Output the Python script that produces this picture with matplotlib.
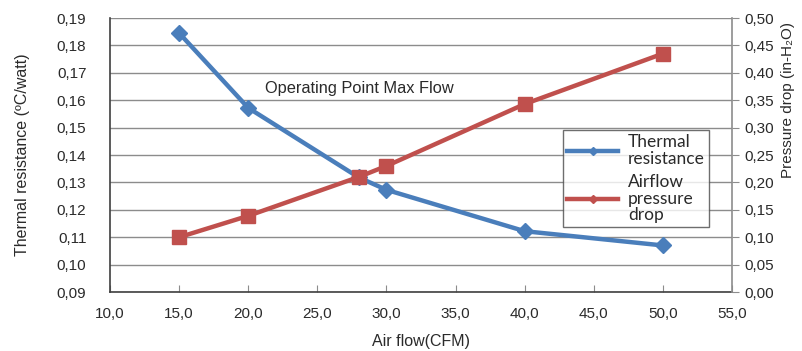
import matplotlib
matplotlib.use("Agg")
import matplotlib.pyplot as plt
from matplotlib.ticker import FuncFormatter, MultipleLocator
from matplotlib.lines import Line2D

plt.rcParams['font.family'] = ['Liberation Sans', 'DejaVu Sans']

# Thermal resistance vs airflow
flow_tr = [15, 20, 28, 30, 40, 50]
thermal_res = [0.1845, 0.1572, 0.1318, 0.1273, 0.1122, 0.1070]

# Pressure drop vs airflow
flow_dp = [15, 20, 28, 30, 40, 50]
pressure_drop = [0.100, 0.139, 0.210, 0.230, 0.343, 0.435]

blue = '#4a7ebb'
red = '#c0504d'
grid_c = '#8c8c8c'
text_c = '#2a2a2a'

fig = plt.figure(figsize=(8.03, 3.51), dpi=100)
ax = fig.add_axes([0.137, 0.168, 0.7746, 0.7807])
ax2 = ax.twinx()

comma = lambda fmt: FuncFormatter(lambda v, p: (fmt % v).replace('.', ','))

ax.set_xlim(10, 55)
ax.set_ylim(0.09, 0.19)
ax.xaxis.set_major_locator(MultipleLocator(5))
ax.yaxis.set_major_locator(MultipleLocator(0.01))
ax.xaxis.set_major_formatter(comma('%.1f'))
ax.yaxis.set_major_formatter(comma('%.2f'))
ax2.set_ylim(0, 0.5)
ax2.yaxis.set_major_locator(MultipleLocator(0.05))
ax2.yaxis.set_major_formatter(comma('%.2f'))

ax.grid(axis='y', color=grid_c, linewidth=1.0)
ax.set_axisbelow(True)

for s in ['left', 'bottom']:
    ax.spines[s].set_color('#404040')
    ax.spines[s].set_linewidth(1.2)
ax.spines['top'].set_visible(False)
ax2.spines['top'].set_visible(False)
ax.spines['right'].set_visible(False)
ax2.spines['left'].set_visible(False)
ax2.spines['bottom'].set_visible(False)
ax2.spines['right'].set_color(grid_c)
ax2.spines['right'].set_linewidth(1.2)

ax.tick_params(axis='x', direction='in', length=5, color=grid_c, labelsize=11,
               labelcolor=text_c, pad=11)
ax.tick_params(axis='y', length=0, labelsize=11, labelcolor=text_c, pad=17)
ax2.tick_params(axis='y', direction='out', length=5, color=grid_c, labelsize=11,
                labelcolor=text_c, pad=4)

# thermal resistance first, pressure drop drawn over it
ax.plot(flow_tr, thermal_res, color=blue, linewidth=3.2, marker='D',
        markersize=8, zorder=3)
ax2.plot(flow_dp, pressure_drop, color=red, linewidth=3.2, marker='s',
         markersize=10, zorder=3)

ax.set_xlabel('Air flow(CFM)', fontsize=11.5, color=text_c, labelpad=9)
ax.set_ylabel('Thermal resistance (ºC/watt)', fontsize=11.5, color=text_c, labelpad=19)
ax2.set_ylabel('Pressure drop (in-H₂O)', fontsize=11, color=text_c)
ax2.yaxis.set_label_coords(1.078, 0.70)

ax.text(21.2, 0.1644, 'Operating Point Max Flow', fontsize=11.8, color=text_c,
        va='center', ha='left')

handles = [
    Line2D([], [], color=blue, linewidth=3.2, marker='D', markersize=4),
    Line2D([], [], color=red, linewidth=3.2, marker='D', markersize=4),
]
leg = fig.legend(handles, ['Thermal\nresistance', 'Airflow\npressure\ndrop'],
                 loc='upper left', bbox_to_anchor=(563 / 803, 1 - 130 / 351),
                 frameon=True, fancybox=False, edgecolor='#4a4a4a',
                 prop={'family': 'Lato', 'size': 12.5}, handlelength=2.9,
                 labelspacing=0.45, borderpad=0.25, handletextpad=0.6,
                 borderaxespad=0.0, labelcolor=text_c)
for t in leg.get_texts():
    t.set_linespacing(1.02)
leg.get_frame().set_linewidth(1.0)

fig.savefig('out.png', dpi=100)
